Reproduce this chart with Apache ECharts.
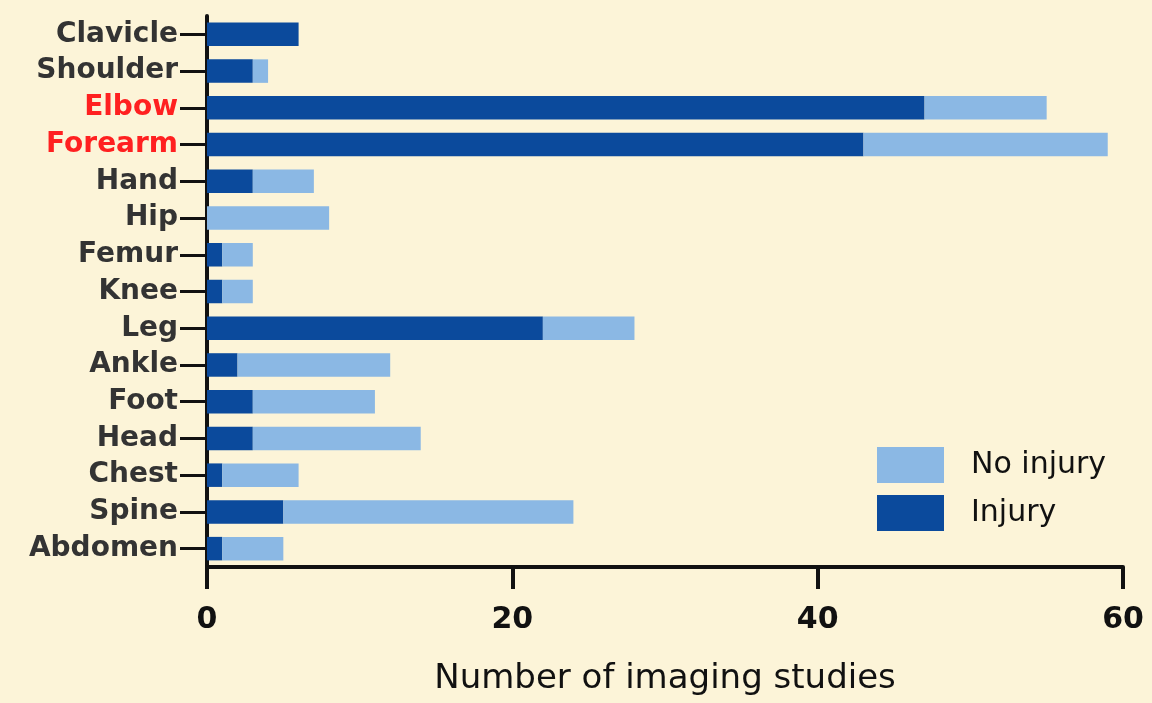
<!DOCTYPE html>
<html>
<head>
<meta charset="utf-8">
<script src="https://cdn.jsdelivr.net/npm/echarts@6/dist/echarts.min.js"></script>
<style>
html,body{margin:0;padding:0;background:#fcf4d8;}
#chart{width:1152px;height:703px;}
</style>
</head>
<body>
<div id="chart"></div>
<script>
const categories = ['Clavicle','Shoulder','Elbow','Forearm','Hand','Hip','Femur','Knee','Leg','Ankle','Foot','Head','Chest','Spine','Abdomen'];
const highlighted = ['Elbow','Forearm'];
const injury   = [6,3,47,43,3,0,1,1,22,2,3,3,1,5,1];
const noInjury = [0,1,8,16,4,8,2,2,6,10,8,11,5,19,4];
const xTicks = [0,20,40,60];

const FONT = 'DejaVu Sans';
const chart = echarts.init(document.getElementById('chart'));
chart.setOption({
  backgroundColor: '#fcf4d8',
  animation: false,
  grid: {left: 207, right: 29, top: 16, bottom: 136, containLabel: false},
  legend: {
    data: ['No injury','Injury'],
    orient: 'vertical',
    left: 877, top: 447, padding: 0,
    itemWidth: 67, itemHeight: 36, itemGap: 12,
    icon: 'rect',
    textStyle: {fontFamily: FONT, fontSize: 30, color: '#111', padding: [0,0,0,22]},
    selectedMode: false
  },
  xAxis: {
    type: 'value', min: xTicks[0], max: xTicks[xTicks.length-1], interval: 20,
    name: 'Number of imaging studies', nameLocation: 'middle', nameGap: 95,
    nameTextStyle: {fontFamily: FONT, fontSize: 34, color: '#111'},
    axisLine: {show: true, lineStyle: {color: '#111', width: 4}},
    axisTick: {show: true, length: 22, lineStyle: {color: '#111', width: 4}},
    axisLabel: {fontFamily: FONT, fontSize: 30, fontWeight: 'bold', color: '#111', margin: 38},
    splitLine: {show: false}
  },
  yAxis: {
    type: 'category', inverse: true,
    data: categories.map(c => highlighted.includes(c)
      ? {value: c, textStyle: {color: '#ff2020'}} : c),
    axisLine: {show: true, lineStyle: {color: '#111', width: 4}},
    axisTick: {show: true, alignWithLabel: true, length: 27, lineStyle: {color: '#111', width: 3}},
    axisLabel: {fontFamily: FONT, fontSize: 28, fontWeight: 'bold', color: '#333', margin: 29},
    splitLine: {show: false}
  },
  series: [
    {name: 'Injury', type: 'bar', stack: 'total', data: injury, barWidth: '64%',
     itemStyle: {color: '#0b4a9c'}},
    {name: 'No injury', type: 'bar', stack: 'total', data: noInjury, barWidth: '64%',
     itemStyle: {color: '#8bb8e4'}}
  ]
});
</script>
</body>
</html>
